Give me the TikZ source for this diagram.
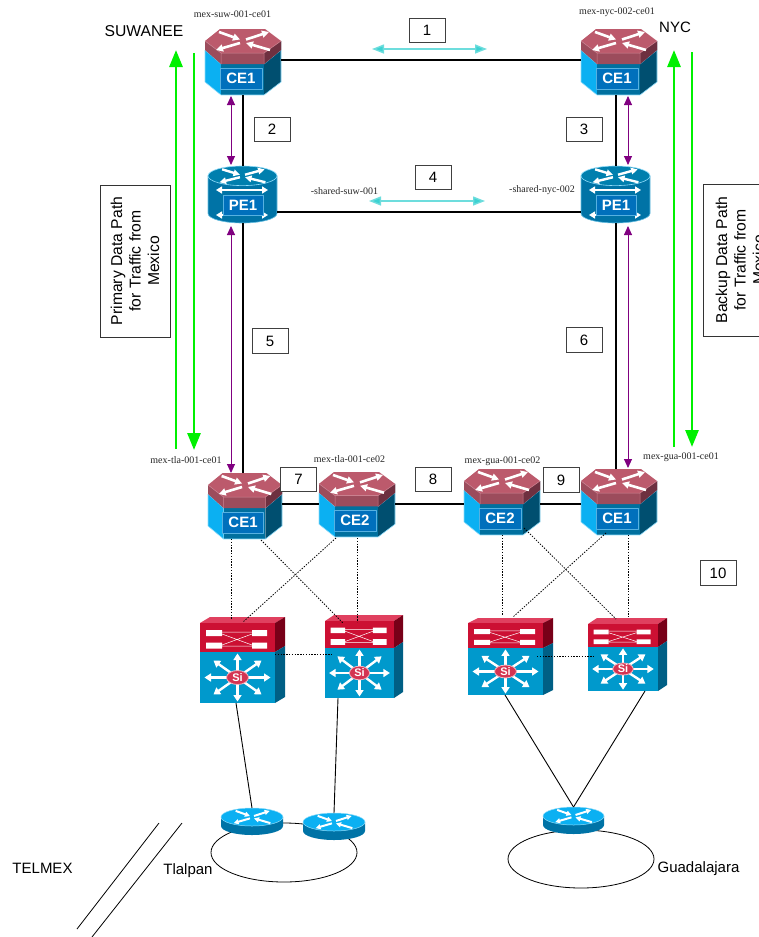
\documentclass[tikz,border=0pt]{standalone}
\usepackage{fontspec}
\setmainfont{Liberation Sans}
\newfontfamily\labelserif{Liberation Serif}
\usetikzlibrary{arrows.meta,shapes.geometric,calc}
\definecolor{rtop}{HTML}{BC5A6C}
\definecolor{rband}{HTML}{9C4C5C}
\definecolor{rdark}{HTML}{6E3040}
\definecolor{bside}{HTML}{0BB0F2}
\definecolor{bdark}{HTML}{004F70}
\definecolor{bfront}{HTML}{00709F}
\definecolor{bbox}{HTML}{0070BC}
\definecolor{bedge}{HTML}{8FDCFA}
\definecolor{cyl}{HTML}{007FAE}
\definecolor{cylb}{HTML}{0073A6}
\definecolor{stop}{HTML}{E0405F}
\definecolor{sred}{HTML}{CC1033}
\definecolor{sreddk}{HTML}{780018}
\definecolor{sblue}{HTML}{0099CC}
\definecolor{sbluedk}{HTML}{005F85}
\definecolor{gpath}{HTML}{00F000}
\definecolor{purp}{HTML}{800080}
\definecolor{cyanarrow}{HTML}{3CD2D2}
\tikzset{
  hit/.style={shape=rectangle,inner sep=0pt,outer sep=0pt},
  numbox/.style={draw=black!75,fill=white,line width=.7pt,minimum width=36pt,minimum height=24.5pt,inner sep=0pt,font=\fontsize{15}{15}\selectfont},
  sanslabel/.style={inner sep=0pt,font=\fontsize{15}{15}\selectfont},
  seriflabel/.style={inner sep=0pt,text=black!85,font=\labelserif\fontsize{10}{10}\selectfont},
  pathbox/.style={draw=black!80,fill=white,line width=.7pt,inner sep=0pt},
  pathtext/.style={inner sep=0pt,rotate=90,align=center,font=\fontsize{15.7}{18.5}\selectfont},
  devlabel/.style={inner sep=0pt,text=white,font=\bfseries\fontsize{15}{15}\selectfont},
  trunk/.style={draw=black,line width=2.8pt},
  purparrow/.style={draw=purp,line width=.9pt,{Triangle[length=9pt,width=8pt]}-{Triangle[length=9pt,width=8pt]}},
  cyanlink/.style={draw=cyanarrow!75,line width=1.4pt,{Triangle[length=12pt,width=9pt,fill=cyanarrow]}-{Triangle[length=12pt,width=9pt,fill=cyanarrow]}},
  greenarrow/.style={draw=gpath,line width=2.8pt,-{Triangle[length=17pt,width=13pt]}},
  dotlink/.style={draw=black,line width=.8pt,dash pattern=on 1.4pt off 1.4pt},
  solidlink/.style={draw=black,line width=.9pt},
  whitearrow/.style={draw=white,-{Triangle[length=#1,width=#1]}},
}
% centre x, centre y, x scale, y scale, line width, tip size
\newcommand{\xarrows}[6]{%
  \begin{scope}[shift={(#1,#2)},xscale=#3,yscale=#4,line width=#5]
    \draw[whitearrow=#6] (-24,-9) -- (-3,-1.5);
    \draw[whitearrow=#6] (3,-1.5) -- (26,-9);
    \draw[whitearrow=#6] (-3,2) -- (-27,9);
    \draw[whitearrow=#6] (27,9) -- (3,2);
  \end{scope}}
% name, x, y, w, h, label
\newcommand{\cerouter}[6]{%
  \node[hit,minimum width=#4pt,minimum height=#5pt] (#1) at (#2+#4/2,#3+#5/2) {};
  \begin{scope}[shift={(#2,#3)},xscale=#4/76,yscale=#5/66,line join=round]
    \fill[bside] (0,12) -- (16,24) -- (16,66) -- (0,53) -- cycle;
    \fill[bdark] (59,24) -- (76,12) -- (76,53) -- (59,66) -- cycle;
    \fill[bfront] (16,24) rectangle (59,66);
    \draw[bedge,line width=.6pt] (0,21) -- (0,53) -- (16,66) -- (59,66) -- (76,53) -- (76,21);
    \draw[bedge,line width=.5pt] (0,21) -- (16,35) (76,21) -- (59,35);
    \fill[rband] (0,12) -- (16,24) -- (59,24) -- (76,12) -- (76,21) -- (59,35) -- (16,35) -- (0,21) -- cycle;
    \fill[rdark] (59,24) -- (76,12) -- (76,21) -- (59,35) -- cycle;
    \fill[rtop] (15,0) -- (60,0) -- (76,12) -- (59,24) -- (16,24) -- (0,12) -- cycle;
    \draw[rtop!75!white,line width=.5pt] (16,24) -- (16,35) (59,24) -- (59,35) (0,12) -- (16,24) -- (59,24) -- (76,12);
    \filldraw[fill=bbox,draw=bedge!60!bbox,line width=.6pt] (15,39) rectangle (57,60);
  \end{scope}
  \xarrows{#2+#4/2}{#3+12*#5/66}{#4/76}{#5/66}{2.6pt}{7pt}
  \node[devlabel] (#1-label) at (#2+36*#4/76,#3+49.5*#5/66) {#6};}
% name, x, y, label
\newcommand{\perouter}[4]{%
  \node[hit,minimum width=69pt,minimum height=57pt] (#1) at (#2+34.5,#3+28.5) {};
  \begin{scope}[shift={(#2,#3)}]
    \filldraw[fill=cylb,draw=bedge!70!cylb,line width=.6pt] (0,10) -- (0,47.5) arc[x radius=34.5,y radius=9.5,start angle=180,end angle=0] -- (69,10) -- cycle;
    \filldraw[fill=cyl,draw=bedge,line width=.6pt] (34.5,9.8) ellipse[x radius=34.5,y radius=9.8];
    \draw[white,line width=2.4pt,{Triangle[length=6pt,width=7pt]}-{Triangle[length=6pt,width=7pt]}] (8,24) -- (60,24);
    \draw[white,line width=2.4pt,{Triangle[length=6pt,width=7pt]}-{Triangle[length=6pt,width=7pt]}] (8,49) -- (60,49);
    \filldraw[fill=bbox,draw=bedge!60!bbox,line width=.6pt] (15,29) rectangle (55,49);
  \end{scope}
  \xarrows{#2+34.5}{#3+9.8}{.85}{.72}{2.4pt}{6.5pt}
  \node[devlabel] (#1-label) at (#2+35,#3+39) {#4};}
% name, x, y, w
\newcommand{\smallrouter}[4]{%
  \node[hit,minimum width=#4pt,minimum height=27pt] (#1) at (#2+#4/2,#3+13.5) {};
  \begin{scope}[shift={(#2,#3)}]
    \fill[cylb] (0,9) -- (0,18) arc[x radius=#4/2,y radius=9,start angle=180,end angle=0] -- (#4,9) -- cycle;
    \filldraw[fill=bside,draw=bedge,line width=.5pt] (#4/2,9) ellipse[x radius=#4/2,y radius=9];
  \end{scope}
  \xarrows{#2+#4/2}{#3+9}{.68}{.68}{2pt}{5pt}}
% name, x0, x1, yback, yfront, ysplit, ybot, xdepth
\newcommand{\switchbox}[8]{%
  \node[hit,minimum width=#8pt-#2pt,minimum height=#7pt-#4pt] (#1) at ({(#2+#8)/2},{(#4+#7)/2}) {};
  \fill[stop] (#2,#5) -- (#2+#8-#3,#4) -- (#8,#4) -- (#3,#5) -- cycle;
  \fill[sreddk] (#3,#5) -- (#8,#4) -- (#8,#6-#5+#4) -- (#3,#6) -- cycle;
  \fill[sbluedk] (#3,#6) -- (#8,#6-#5+#4) -- (#8,#7-#5+#4) -- (#3,#7) -- cycle;
  \fill[sred] (#2,#5) rectangle (#3,#6);
  \fill[sblue] (#2,#6) rectangle (#3,#7);
  \begin{scope}[shift={(#2,#5)},xscale=(#3-#2)/75,yscale=(#6-#5)/29]
    \fill[white] (6,7) rectangle (22,13) (52,7) rectangle (67,13) (6,19.5) rectangle (22,25.5) (52,19.5) rectangle (67,25.5);
    \draw[white,line width=.5pt] (22,9) -- (52,9) (22,23) -- (52,23) (22,11) -- (52,22) (22,22) -- (52,11);
  \end{scope}
  \begin{scope}[shift={({(#2+#3)/2},{(#6+#7)/2})},xscale=(#3-#2)/75,yscale=(#7-#6)/51,line width=2.4pt]
    \foreach \a/\b in {33/0,-33/0,0/24,0/-24,24/17,-24/17,24/-17,-24/-17}
      \draw[white,-{Triangle[length=6.5pt,width=8pt]}] (0,0) -- (\a,\b);
    \filldraw[fill=sred!85!white,draw=white!70!sred,line width=.8pt] (0,0) ellipse[x radius=11,y radius=7];
  \end{scope}
  \node[inner sep=0pt,text=white,font=\bfseries\fontsize{11}{11}\selectfont] (#1-si) at ({(#2+#3)/2},{(#6+#7)/2}) {Si};}
\begin{document}
\begin{tikzpicture}[x=1pt,y=-1pt]
\useasboundingbox (0,0) rectangle (759,937);
% rings
\node[draw=black,line width=.8pt,shape=ellipse,inner sep=0pt,minimum width=146pt,minimum height=59pt] (tlalpanring) at (284,852.5) {};
\node[draw=black,line width=.8pt,shape=ellipse,inner sep=0pt,minimum width=146pt,minimum height=58pt] (guaring) at (581,859) {};
% devices
\cerouter{suw}{205}{29}{76}{66}{CE1}
\cerouter{nyc}{581}{29}{76}{66}{CE1}
\perouter{pesuw}{208}{166}{PE1}
\perouter{penyc}{581}{166}{PE1}
\cerouter{tlaA}{208}{473}{74}{66}{CE1}
\cerouter{tlaB}{319}{472}{76}{65}{CE2}
\cerouter{guaB}{464}{469}{76}{66}{CE2}
\cerouter{guaA}{581}{469}{76}{66}{CE1}
\switchbox{swA}{200}{275}{617}{623}{652}{703}{285}
\switchbox{swB}{325}{394}{615}{621}{648}{698}{403}
\switchbox{swC}{468}{543}{618}{623}{648}{695}{553}
\switchbox{swD}{588}{658}{618}{624}{647}{691}{667}
\smallrouter{rtA}{221}{808}{62}
\smallrouter{rtB}{303}{813}{62}
\smallrouter{rtC}{543}{807}{61}
% trunks
\draw[trunk] ([yshift=2pt]suw.east) -- ([yshift=2pt]nyc.west);
\draw[trunk] ([yshift=-17.5pt]pesuw.east) -- ([yshift=-17.5pt]penyc.west);
\draw[trunk] (suw.south) -- ([xshift=.5pt]pesuw.north);
\draw[trunk] ([xshift=-3pt]nyc.south) -- ([xshift=.5pt]penyc.north);
\draw[trunk] ([xshift=.5pt]pesuw.south) -- ([xshift=-2pt]tlaA.north);
\draw[trunk] ([xshift=.5pt]penyc.south) -- ([xshift=-3pt]guaA.north);
\draw[trunk] ([yshift=2pt]tlaA.east) -- ([yshift=.5pt]tlaB.west);
\draw[trunk] ([yshift=.5pt]tlaB.east) -- ([yshift=-2pt]guaB.west);
\draw[trunk] ([yshift=-2pt]guaB.east) -- ([yshift=-2pt]guaA.west);
% purple arrows
\draw[purparrow] ([xshift=-12pt,yshift=-1pt]suw.south) -- ([xshift=-11.5pt,yshift=1pt]pesuw.north);
\draw[purparrow] ([xshift=-11.5pt,yshift=-3pt]pesuw.south) -- ([xshift=-14pt]tlaA.north);
\draw[purparrow] ([xshift=9pt,yshift=-1pt]nyc.south) -- ([xshift=12.5pt,yshift=1pt]penyc.north);
\draw[purparrow] ([xshift=12.5pt,yshift=-3pt]penyc.south) -- ([xshift=9pt,yshift=1pt]guaA.north);
% green paths
\coordinate (gl1a) at (176,449); \coordinate (gl1b) at (176,50);
\coordinate (gl2a) at (194,53); \coordinate (gl2b) at (194,450);
\coordinate (gr1a) at (674,447); \coordinate (gr1b) at (674,50);
\coordinate (gr2a) at (692,52); \coordinate (gr2b) at (692,447);
\draw[greenarrow] (gl1a) -- (gl1b);
\draw[greenarrow] (gl2a) -- (gl2b);
\draw[greenarrow] (gr1a) -- (gr1b);
\draw[greenarrow] (gr2a) -- (gr2b);
% cyan
\coordinate (cy1a) at (372,49); \coordinate (cy1b) at (487,49);
\coordinate (cy2a) at (369,201); \coordinate (cy2b) at (485,201);
\draw[cyanlink] (cy1a) -- (cy1b);
\draw[cyanlink] (cy2a) -- (cy2b);
% dotted
\draw[dotlink] ([xshift=-14pt]tlaA.south) -- ([xshift=-11.5pt,yshift=-2pt]swA.north);
\draw[dotlink] ([xshift=16pt,yshift=-1pt]tlaA.south) -- ([xshift=-21pt,yshift=-8pt]swB.north);
\draw[dotlink] ([xshift=-21pt,yshift=-1pt]tlaB.south) -- ([xshift=.5pt,yshift=-5pt]swA.north);
\draw[dotlink] ([yshift=-1pt]tlaB.south) -- ([xshift=-7pt,yshift=-7pt]swB.north);
\draw[dotlink] (guaB.south) -- ([xshift=-8.5pt,yshift=2pt]swC.north);
\draw[dotlink] ([xshift=22pt,yshift=7pt]guaB.south) -- ([xshift=-11.5pt,yshift=-1pt]swD.north);
\draw[dotlink] ([xshift=-13pt,yshift=2pt]guaA.south) -- ([xshift=2.5pt,yshift=1pt]swC.north);
\draw[dotlink] ([xshift=9pt]guaA.south) -- ([xshift=.5pt,yshift=1pt]swD.north);
\draw[dotlink] ([xshift=-10pt,yshift=6pt]swA.east) -- ([xshift=8pt,yshift=2.5pt]swB.west);
\draw[dotlink] ([xshift=-16pt,yshift=.5pt]swC.east) -- ([xshift=6pt,yshift=-1.5pt]swD.west);
% solid
\draw[solidlink] ([xshift=-6.5pt]swA.south) -- (rtA.north);
\draw[solidlink] ([xshift=-26pt]swB.south) -- (rtB.north);
\draw[solidlink] ([xshift=-5.5pt]swC.south) -- (rtC.north);
\draw[solidlink] ([xshift=17.5pt]swD.south) -- (rtC.north);
% diagonals
\coordinate (diaA) at (159,823); \coordinate (diaB) at (77,929);
\coordinate (diaC) at (182,823); \coordinate (diaD) at (92,937);
\draw[solidlink,line width=.8pt] (diaA) -- (diaB);
\draw[solidlink,line width=.8pt] (diaC) -- (diaD);
% number boxes
\node[numbox] (n1) at (427,30.5) {1};
\node[numbox] (n2) at (272,129.5) {2};
\node[numbox] (n3) at (584,129.5) {3};
\node[numbox] (n4) at (433,177.5) {4};
\node[numbox] (n5) at (270,341) {5};
\node[numbox] (n6) at (584,340) {6};
\node[numbox] (n7) at (298.5,479.5) {7};
\node[numbox] (n8) at (433,479.5) {8};
\node[numbox] (n9) at (561,480) {9};
\node[numbox] (n10) at (718,573) {10};
% data path boxes
\node[pathbox,minimum width=70pt,minimum height=152pt] (primbox) at (135,261) {};
\node[pathtext] (primtext) at (135,261) {Primary Data Path\\for Traffic from\\Mexico};
\node[pathbox,minimum width=72pt,minimum height=152pt] (backbox) at (739,260) {};
\node[pathtext] (backtext) at (740,260) {Backup Data Path\\for Traffic from\\Mexico};
% labels
\node[sanslabel,font=\fontsize{15.7}{15.7}\selectfont] (lsuw) at (144,31) {SUWANEE};
\node[sanslabel] (lnyc) at (675,27) {NYC};
\node[sanslabel] (ltel) at (42.5,868) {TELMEX};
\node[sanslabel] (ltla) at (188,871) {Tlalpan};
\node[sanslabel] (lgua) at (698.5,869) {Guadalajara};
\node[seriflabel] (s1) at (232.5,14) {mex-suw-001-ce01};
\node[seriflabel] (s2) at (617,12.5) {mex-nyc-002-ce01};
\node[seriflabel] (s3) at (186,460) {mex-tla-001-ce01};
\node[seriflabel] (s4) at (349.5,459) {mex-tla-001-ce02};
\node[seriflabel] (s5) at (502.5,461) {mex-gua-001-ce02};
\node[seriflabel] (s6) at (681,457) {mex-gua-001-ce01};
\node[seriflabel] (s7) at (344.5,191) {-shared-suw-001};
\node[seriflabel] (s8) at (542,190) {-shared-nyc-002};
\end{tikzpicture}
\end{document}
